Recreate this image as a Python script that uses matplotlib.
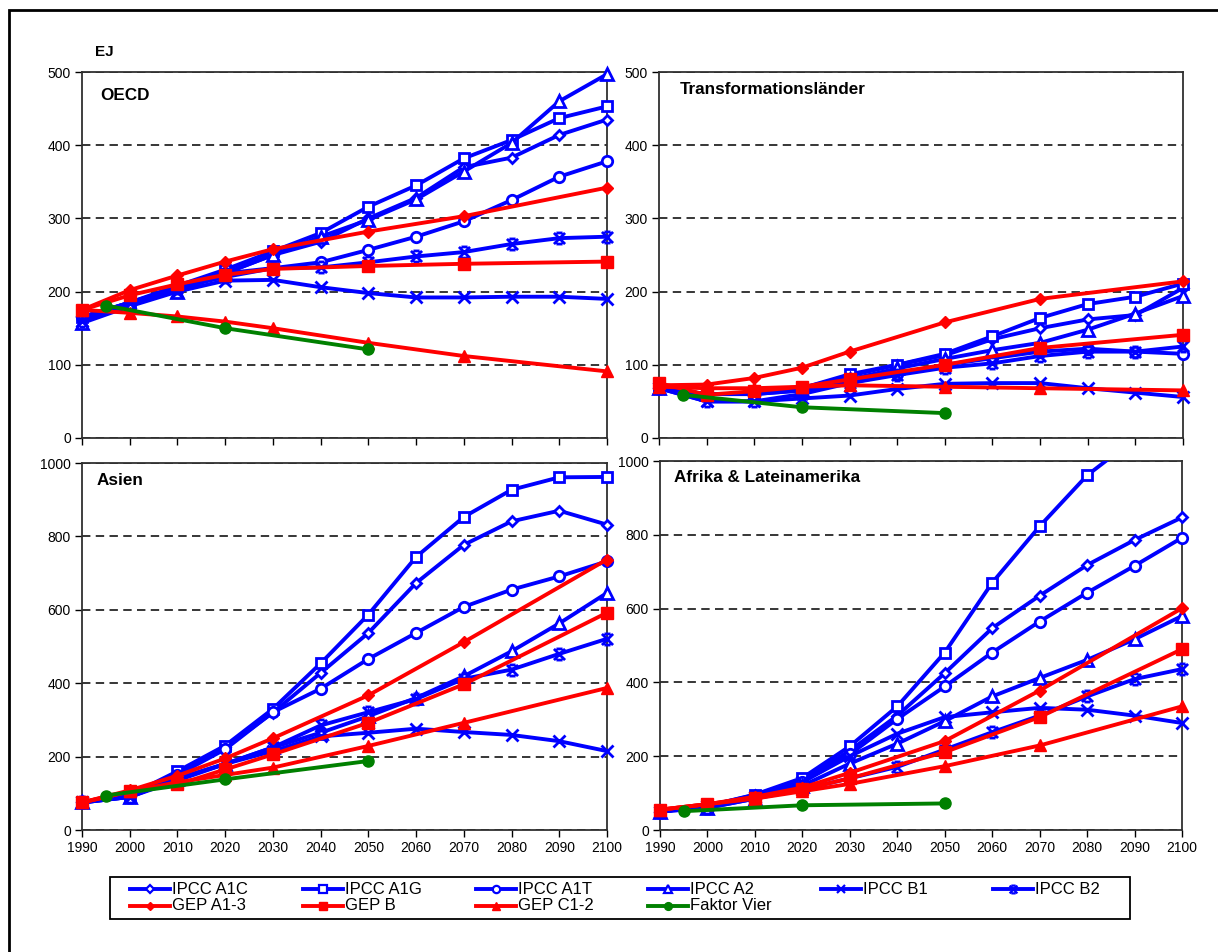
import matplotlib
matplotlib.use("Agg")
import matplotlib.pyplot as plt
from matplotlib.lines import Line2D
from matplotlib.path import Path
from matplotlib.patches import Rectangle

plt.rcParams['font.family'] = ['Liberation Sans', 'DejaVu Sans']

# Primärenergiebedarf in EJ, vier Weltregionen
regions = ["OECD", "Transformationsländer", "Asien", "Afrika & Lateinamerika"]
y_max = [500, 500, 1000, 1000]
y_step = [100, 100, 200, 200]

years_ipcc = [1990, 2000, 2010, 2020, 2030, 2040, 2050, 2060, 2070, 2080, 2090, 2100]
years_gep = [1990, 2000, 2010, 2020, 2030, 2050, 2070, 2100]
years_f4 = [1995, 2020, 2050]

ipcc_a1c = {
    "OECD": [165, 185, 205, 225, 250, 268, 300, 328, 370, 383, 414, 435],
    "Transformationsländer": [68, 60, 60, 68, 85, 100, 113, 135, 150, 162, 168, 205],
    "Asien": [75, 95, 155, 225, 320, 428, 537, 673, 777, 841, 870, 832],
    "Afrika & Lateinamerika": [50, 65, 95, 135, 215, 310, 425, 547, 635, 718, 786, 847],
}
ipcc_a1g = {
    "OECD": [165, 185, 208, 230, 255, 280, 316, 345, 382, 407, 437, 453],
    "Transformationsländer": [68, 60, 60, 68, 87, 100, 115, 139, 164, 183, 193, 211],
    "Asien": [75, 95, 160, 230, 330, 454, 587, 744, 853, 927, 961, 962],
    "Afrika & Lateinamerika": [50, 65, 96, 141, 227, 335, 481, 670, 823, 961, 1060, 1150],
}
ipcc_a1t = {
    "OECD": [165, 185, 205, 225, 232, 240, 257, 275, 296, 325, 357, 378],
    "Transformationsländer": [68, 60, 60, 65, 75, 88, 100, 109, 118, 122, 118, 115],
    "Asien": [75, 95, 150, 220, 321, 385, 466, 537, 608, 655, 691, 732],
    "Afrika & Lateinamerika": [50, 65, 92, 130, 205, 301, 389, 481, 565, 643, 716, 792],
}
ipcc_a2 = {
    "OECD": [157, 180, 200, 225, 250, 275, 298, 326, 364, 403, 460, 497],
    "Transformationsländer": [68, 60, 60, 65, 80, 95, 108, 120, 130, 148, 170, 194],
    "Asien": [75, 90, 140, 180, 225, 265, 310, 360, 419, 487, 563, 646],
    "Afrika & Lateinamerika": [50, 60, 85, 120, 180, 234, 295, 362, 412, 461, 517, 580],
}
ipcc_b1 = {
    "OECD": [160, 185, 200, 215, 216, 206, 198, 192, 192, 193, 193, 190],
    "Transformationsländer": [68, 50, 50, 54, 58, 67, 74, 75, 75, 68, 62, 56],
    "Asien": [75, 90, 135, 180, 215, 255, 265, 276, 267, 259, 242, 215],
    "Afrika & Lateinamerika": [50, 65, 90, 130, 200, 261, 306, 319, 331, 326, 310, 290],
}
ipcc_b2 = {
    "OECD": [160, 185, 205, 220, 232, 233, 240, 248, 254, 265, 273, 275],
    "Transformationsländer": [68, 50, 50, 60, 75, 86, 96, 102, 112, 118, 118, 125],
    "Asien": [75, 90, 140, 180, 225, 285, 321, 357, 412, 437, 480, 521],
    "Afrika & Lateinamerika": [50, 60, 85, 110, 140, 171, 218, 265, 310, 362, 409, 436],
}
gep_a13 = {
    "OECD": [175, 202, 222, 241, 258, 282, 303, 342],
    "Transformationsländer": [72, 73, 82, 96, 118, 158, 190, 214],
    "Asien": [75, 108, 148, 195, 250, 367, 512, 737],
    "Afrika & Lateinamerika": [55, 70, 90, 115, 155, 241, 378, 601],
}
gep_b = {
    "OECD": [175, 195, 210, 223, 231, 235, 238, 241],
    "Transformationsländer": [75, 59, 64, 70, 80, 100, 123, 141],
    "Asien": [75, 105, 124, 165, 206, 292, 397, 592],
    "Afrika & Lateinamerika": [55, 70, 88, 110, 140, 211, 306, 490],
}
gep_c12 = {
    "OECD": [175, 171, 166, 159, 150, 130, 112, 91],
    "Transformationsländer": [70, 68, 68, 70, 72, 70, 68, 65],
    "Asien": [75, 105, 130, 150, 170, 229, 292, 387],
    "Afrika & Lateinamerika": [55, 70, 85, 105, 125, 173, 229, 335],
}
faktor_vier = {
    "OECD": [181, 150, 121],
    "Transformationsländer": [59, 42, 34],
    "Asien": [94, 138, 188],
    "Afrika & Lateinamerika": [51, 67, 72],
}

# Sternmarker: Kreuz mit kurzen waagerechten Kappen oben und unten
star = Path([(-1, -1), (1, 1), (-1, 1), (1, -1),
             (-0.55, 1), (0.55, 1), (-0.55, -1), (0.55, -1)],
            [Path.MOVETO, Path.LINETO, Path.MOVETO, Path.LINETO,
             Path.MOVETO, Path.LINETO, Path.MOVETO, Path.LINETO])

BLUE, RED, GREEN = "#0000FF", "#FF0000", "#008000"
series = [
    ("IPCC A1C", years_ipcc, ipcc_a1c, BLUE, "D", 5.5, "white"),
    ("IPCC A1G", years_ipcc, ipcc_a1g, BLUE, "s", 7.5, "white"),
    ("IPCC A1T", years_ipcc, ipcc_a1t, BLUE, "o", 7.5, "white"),
    ("IPCC A2", years_ipcc, ipcc_a2, BLUE, "^", 8, "white"),
    ("IPCC B1", years_ipcc, ipcc_b1, BLUE, "x", 8, BLUE),
    ("IPCC B2", years_ipcc, ipcc_b2, BLUE, star, 8, BLUE),
    ("GEP A1-3", years_gep, gep_a13, RED, "D", 6.5, RED),
    ("GEP B", years_gep, gep_b, RED, "s", 8, RED),
    ("GEP C1-2", years_gep, gep_c12, RED, "^", 8.5, RED),
    ("Faktor Vier", years_f4, faktor_vier, GREEN, "o", 8, GREEN),
]

W, H = 1218, 952
fig = plt.figure(figsize=(W / 100, H / 100), dpi=100)

# Achsenpositionen in Pixeln: links, oben, rechts, unten
boxes = [(82, 72, 607, 438), (659, 72, 1183, 438),
         (82, 463, 607, 830), (660, 461, 1182, 830)]
title_off = [(18, 23), (21, 17), (15, 17), (14, 16)]

for i, region in enumerate(regions):
    l, t, r, b = boxes[i]
    ax = fig.add_axes([l / W, 1 - b / H, (r - l) / W, (b - t) / H])
    for name, yrs, data, col, mk, ms, mfc in series:
        # Linie, die über den oberen Rand hinausläuft, wird abgeschnitten
        vals = data[region]
        clip = max(vals) > y_max[i]
        ax.plot(yrs, vals, color=col, lw=2.8, marker=mk, ms=ms,
                mfc=mfc, mec=col, mew=2 if col == BLUE else 1,
                clip_on=clip, zorder=3)
    ax.set_xlim(1990, 2100)
    ax.set_ylim(0, y_max[i])
    ax.set_xticks(years_ipcc)
    ax.set_yticks(range(0, y_max[i] + 1, y_step[i]))
    ax.yaxis.grid(True, color="black", lw=1.1, ls=(0, (5.5, 3.5)))
    ax.set_axisbelow(True)
    ax.tick_params(direction="out", length=5, width=1, labelsize=10,
                   colors="black", pad=3)
    if i < 2:
        ax.tick_params(axis="x", labelbottom=False)
    for sp in ax.spines.values():
        sp.set_color("#303030")
        sp.set_linewidth(1.3)
    tx, ty = title_off[i]
    ax.text(tx / (r - l), 1 - ty / (b - t), region, transform=ax.transAxes,
            fontsize=12.3, fontweight="bold", va="center", ha="left")

fig.text(95 / W, 1 - 52 / H, "EJ", fontsize=11, fontweight="bold",
         va="center", ha="left")

# Legende: Rahmen, zwei Zeilen mit je bis zu sechs Einträgen
fig.add_artist(Rectangle((110 / W, 1 - 919 / H), 1020 / W, 42 / H,
                         transform=fig.transFigure, fill=False,
                         edgecolor="black", lw=1.3))
col_x = [130, 303, 476, 648, 821, 993]
row_y = [889, 906]
for k, (name, yrs, data, col, mk, ms, mfc) in enumerate(series):
    row, c = (0, k) if k < 6 else (1, k - 6)
    x0, y0 = col_x[c], row_y[row]
    fig.add_artist(Line2D([x0 / W, (x0 + 40) / W], [1 - y0 / H] * 2,
                          transform=fig.transFigure, color=col, lw=2.8))
    fig.add_artist(Line2D([(x0 + 20) / W], [1 - y0 / H], transform=fig.transFigure,
                          color=col, marker=mk, ms=ms * 0.7, mfc=mfc, mec=col,
                          mew=1.6 if col == BLUE else 1, lw=0))
    fig.text((x0 + 42) / W, 1 - y0 / H, name, fontsize=12,
             va="center", ha="left")

# Rahmen um die gesamte Grafik
fig.add_artist(Rectangle((9 / W, -0.1), 1.2, 1.1 - 10 / H, transform=fig.transFigure,
                         fill=False, edgecolor="black", lw=2))

fig.savefig("out.png", dpi=100)
